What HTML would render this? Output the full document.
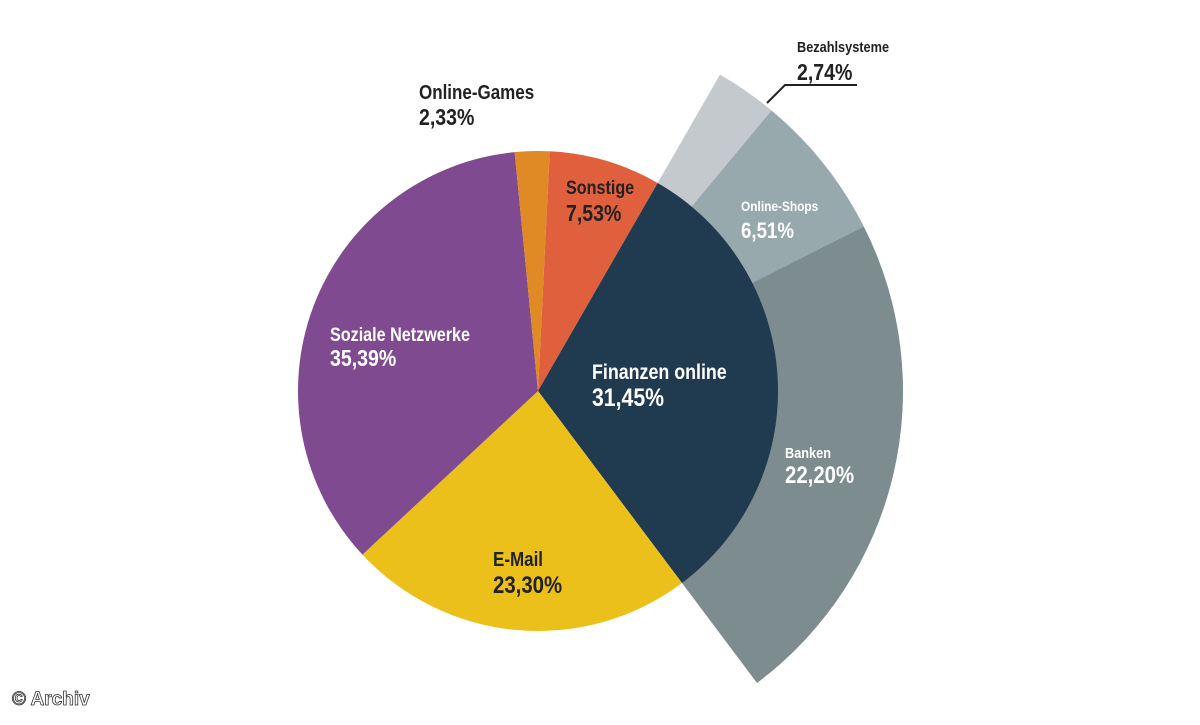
<!DOCTYPE html>
<html><head><meta charset="utf-8"><style>
body{margin:0;background:#fff;width:1200px;height:720px;overflow:hidden}
svg text{font-family:"Liberation Sans Narrow","Liberation Sans",sans-serif;font-weight:bold}
</style></head><body>
<svg id="chart" width="1200" height="720" viewBox="0 0 1200 720" xmlns="http://www.w3.org/2000/svg">
<g id="ring"></g><g id="pie"></g><g id="labels"></g>
<path d="M767 103 L785 85 L857 85" stroke="#222" stroke-width="2" fill="none"/>
<text x="12" y="705" font-size="19" fill="#fff" stroke="#333" stroke-width="0.8" style="font-family:'Liberation Sans',sans-serif">© Archiv</text>
</svg>
<script>
const categories=["Sonstige","Finanzen online","E-Mail","Soziale Netzwerke","Online-Games"];
const values=[7.53,31.45,23.30,35.39,2.33];
const subCategories=["Bezahlsysteme","Online-Shops","Banken"];
const subValues=[2.74,6.51,22.20];
const colors=["#e0603d","#203b50","#ebc01a","#7f4a8f","#e08a25"];
const subColors=["#c3c9cc","#98a9ad","#7c8c8f"];
const cx=538,cy=391,R=240,R2=365,startDeg=2.8;
const NS="http://www.w3.org/2000/svg";
const total=values.reduce((a,b)=>a+b,0);
function pt(r,deg){const a=deg*Math.PI/180;return [cx+r*Math.sin(a),cy-r*Math.cos(a)];}
function sector(r0,r1,a0,a1){const large=(a1-a0)>180?1:0;const [x1,y1]=pt(r1,a0),[x2,y2]=pt(r1,a1);
 if(r0===0)return `M${cx} ${cy}L${x1} ${y1}A${r1} ${r1} 0 ${large} 1 ${x2} ${y2}Z`;
 const [x3,y3]=pt(r0,a1),[x4,y4]=pt(r0,a0);
 return `M${x4} ${y4}L${x1} ${y1}A${r1} ${r1} 0 ${large} 1 ${x2} ${y2}L${x3} ${y3}A${r0} ${r0} 0 ${large} 0 ${x4} ${y4}Z`;}
const pie=document.getElementById('pie'),ring=document.getElementById('ring');
let a=startDeg,finStart=0,finEnd=0;
values.forEach((v,i)=>{const s=v/total*360;const p=document.createElementNS(NS,'path');
 p.setAttribute('d',sector(0,R,a,a+s));p.setAttribute('fill',colors[i]);
 
 
 pie.appendChild(p);if(i===1){finStart=a;finEnd=a+s;}a+=s;});
const subTotal=subValues.reduce((x,y)=>x+y,0);let b=finStart;
subValues.forEach((v,i)=>{const s=v/subTotal*(finEnd-finStart);const p=document.createElementNS(NS,'path');
 p.setAttribute('d',sector(R-2,R2,b,b+s));p.setAttribute('fill',subColors[i]);
 
 
 ring.appendChild(p);b+=s;});
const labelSpecs=[
 ["Online-Games","2,33%",419,99,125,20,23,"#222"],
 ["Sonstige","7,53%",566,194,221,19,23,"#222"],
 ["Finanzen online","31,45%",592,379,406,21,25,"#fff"],
 ["E-Mail","23,30%",493,566,593,20,24,"#222"],
 ["Soziale Netzwerke","35,39%",330,341,366,19,23,"#fff"],
 ["Bezahlsysteme","2,74%",797,52,80,15,23,"#222"],
 ["Online-Shops","6,51%",741,211,238,14,22,"#fff"],
 ["Banken","22,20%",785,458,483,15,24,"#fff"]];
const lg=document.getElementById('labels');
labelSpecs.forEach(l=>{[[l[0],l[3],l[5]],[l[1],l[4],l[6]]].forEach((t,j)=>{const e=document.createElementNS(NS,'text');
 e.setAttribute('x',l[2]);e.setAttribute('y',t[1]);e.setAttribute('font-size',t[2]);e.setAttribute('fill',l[7]);
 e.setAttribute('transform',`translate(${l[2]} 0) scale(0.85 1) translate(${-l[2]} 0)`);
 e.textContent=t[0];
 
 
 lg.appendChild(e);});});
</script>
</body></html>
